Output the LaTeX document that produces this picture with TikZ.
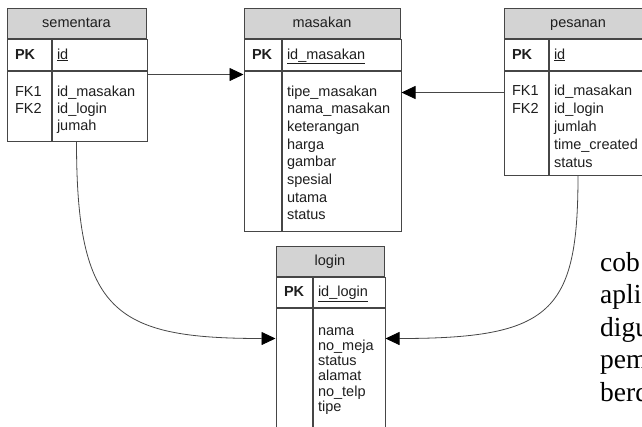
\documentclass[tikz,border=0pt]{standalone}
\usepackage{fontspec}
\setmainfont{Liberation Sans}
\newfontfamily\prosefont{Liberation Serif}
\usetikzlibrary{positioning,arrows.meta}

\definecolor{hdrgray}{RGB}{211,211,211}
\definecolor{linegray}{RGB}{70,70,70}
\definecolor{inkgray}{RGB}{30,30,30}

\tikzstyle{tbl} = [rectangle, draw=linegray, line width=1pt, inner ysep=0pt, align=left, text=inkgray, font=\fontsize{14.5}{17}\selectfont]
\tikzstyle{title} = [tbl, fill=hdrgray, align=center, minimum height=30pt, text height=10pt, text depth=1pt]
\tikzstyle{key} = [tbl, inner xsep=8pt, minimum height=31pt, text height=10pt, text depth=1pt, font=\bfseries\fontsize{14.5}{17}\selectfont]
\tikzstyle{pk} = [tbl, inner xsep=5pt, minimum height=31pt, text height=10pt, text depth=1pt]
\tikzstyle{keyrows} = [tbl, inner xsep=8pt, text height=25pt]
\tikzstyle{fieldrows} = [tbl, inner xsep=5pt, text height=25pt]
\tikzstyle{rel} = [draw=linegray, line width=0.8pt, -{Triangle[length=14pt,width=13pt,color=black]}]
\tikzstyle{prose} = [inner sep=0pt, align=left, text width=80pt, font=\prosefont\fontsize{27.5}{32.5}\selectfont]

\begin{document}
\begin{tikzpicture}[x=1pt, y=-1pt]
\clip (0,0) rectangle (642,426);

% sementara
\node[title, minimum width=139pt] (Sementara) at (76.5,23) {sementara};
\node[key, text width=28pt] (SementaraPK) [below right=0pt of Sementara.south west] {PK};
\node[pk, text width=85pt] (SementaraId) [right=0pt of SementaraPK] {\underline{id}};
\node[keyrows, text width=28pt, text depth=45pt] (SementaraFK) [below right=0pt of SementaraPK.south west] {FK1\\FK2};
\node[fieldrows, text width=85pt, text depth=45pt] (SementaraFields) [right=0pt of SementaraFK] {id\_masakan\\id\_login\\jumah};

% masakan
\node[title, minimum width=156pt] (Masakan) at (322,23) {masakan};
\node[key, text width=21pt] (MasakanPK) [below right=0pt of Masakan.south west] {PK};
\node[pk, text width=109pt] (MasakanId) [right=0pt of MasakanPK] {\underline{id\_masakan}};
\node[keyrows, text width=21pt, text depth=135pt] (MasakanFK) [below right=0pt of MasakanPK.south west] {};
\node[fieldrows, text width=109pt, text depth=135pt, font=\fontsize{14.5}{17.7}\selectfont] (MasakanFields) [right=0pt of MasakanFK]
{tipe\_masakan\\nama\_masakan\\keterangan\\harga\\gambar\\spesial\\utama\\status};

% pesanan
\node[title, minimum width=148pt] (Pesanan) at (578,23) {pesanan};
\node[key, text width=28pt] (PesananPK) [below right=0pt of Pesanan.south west] {PK};
\node[pk, text width=94pt] (PesananId) [right=0pt of PesananPK] {\underline{id}};
\node[keyrows, text width=28pt, text height=24pt, text depth=80pt, font=\fontsize{14.5}{18}\selectfont] (PesananFK) [below right=0pt of PesananPK.south west] {FK1\\FK2};
\node[fieldrows, text width=94pt, text height=24pt, text depth=80pt, font=\fontsize{14.5}{18}\selectfont] (PesananFields) [right=0pt of PesananFK]
{id\_masakan\\id\_login\\jumlah\\time\_created\\status};

% login
\node[title, minimum width=108pt] (Login) at (330,261) {login};
\node[key, text width=20pt, minimum height=30pt] (LoginPK) [below right=0pt of Login.south west] {PK};
\node[pk, text width=62pt, minimum height=30pt] (LoginId) [right=0pt of LoginPK] {\underline{id\_login}};
\node[keyrows, text width=20pt, text height=27pt, text depth=103pt] (LoginFK) [below right=0pt of LoginPK.south west] {};
\node[fieldrows, text width=62pt, text height=27pt, text depth=103pt, font=\fontsize{14.5}{15.3}\selectfont] (LoginFields) [right=0pt of LoginFK]
{nama\\no\_meja\\status\\alamat\\no\_telp\\tipe};

% text beside the diagram
\node[prose, anchor=base west] (Prose) at (600,271) {cob\\apli\\digu\\pem\\berd};

\draw[rel] ([yshift=-4pt]SementaraFields.north east) -- ([yshift=-4pt]MasakanFK.north west);
\draw[rel] ([yshift=-22pt]PesananFK.north west) -- ([yshift=-22pt]MasakanFields.north east);
\draw[rel] (Sementara |- SementaraFields.south) .. controls +(0,171) and +(-161,0) .. ([yshift=-31pt]LoginFK.north west);
\draw[rel] (Pesanan |- PesananFields.south) .. controls +(0,137) and +(166,0) .. ([yshift=-31pt]LoginFields.north east);

\end{tikzpicture}
\end{document}
